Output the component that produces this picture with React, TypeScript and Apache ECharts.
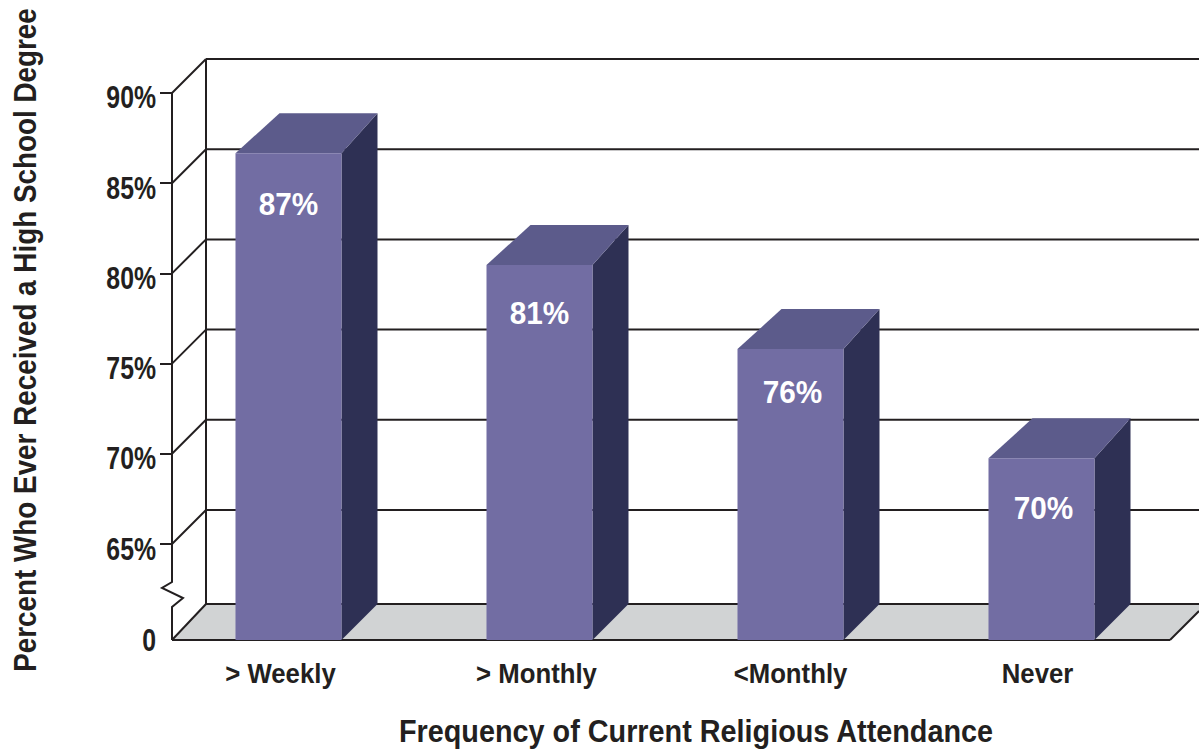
import React, { useEffect, useRef } from "react";
import * as echarts from "echarts";

const categories = ["> Weekly", "> Monthly", "<Monthly", "Never"];
const barLabels = ["87%", "81%", "76%", "70%"];
// Heights as drawn in the picture (on the visible axis scale)
const barHeights = [86.66, 80.47, 75.81, 69.75];
const tickValues = [65, 70, 75, 80, 85, 90];
const xTitle = "Frequency of Current Religious Attendance";
const yTitle = "Percent Who Ever Received a High School Degree";
const BASE = 59.68;

const INK = "#231f20";
const FRONT = "#726da3";
const TOP = "#5c5b8b";
const SIDE = "#2e3054";
const FLOOR = "#d1d3d4";
const FONT = "'Liberation Sans', sans-serif";
const labelDrop = [51, 48, 43, 50];
const labelShift = [0, 0, 2, 2];
const categoryShift = [-8, -3, 0, -4];

const lineStyle = { stroke: INK, lineWidth: 2, fill: "none" };

const label = (text: string, x: number, y: number, size: number, scaleX: number, align = "center", fill = INK, rotation = 0) => ({
  type: "text",
  x,
  y,
  scaleX,
  rotation,
  style: { text, fill, font: `bold ${size}px ${FONT}`, align, verticalAlign: "middle" },
});

function App() {
  const ref = useRef<HTMLDivElement>(null);
  useEffect(() => {
    const chart = echarts.init(ref.current!, null, { renderer: "svg" });
    chart.setOption({
      animation: false,
      backgroundColor: "#fff",
      grid: { left: 163, top: 93, width: 1004, height: 547, containLabel: false, outerBoundsMode: "none" },
      xAxis: {
        type: "category",
        data: categories,
        axisLine: { show: false },
        axisTick: { show: false },
        axisLabel: { show: false },
      },
      yAxis: {
        type: "value",
        min: BASE,
        max: 90,
        offset: -9,
        splitLine: { show: false },
        axisLine: { show: false },
        axisTick: {
          show: true,
          length: 12,
          customValues: tickValues,
          lineStyle: { color: INK, width: 2 },
        },
        axisLabel: { show: false },
      },
      series: [
        {
          type: "custom",
          coordinateSystem: "cartesian2d",
          clip: false,
          silent: true,
          data: [[0, BASE]],
          encode: { x: 0, y: 1 },
          renderItem: (_p: any, api: any) => {
            const y = (v: number) => api.coord([0, v])[1];
            const yBase = y(BASE);
            const children: any[] = [
              {
                type: "polygon",
                shape: { points: [[172, yBase], [206, yBase - 36], [1199, yBase - 36], [1199, yBase - 29], [1170, yBase]] },
                style: { fill: FLOOR },
              },
              { type: "line", shape: { x1: 172, y1: yBase, x2: 1170, y2: yBase }, style: lineStyle },
              { type: "line", shape: { x1: 172, y1: yBase, x2: 206, y2: yBase - 36 }, style: lineStyle },
              { type: "line", shape: { x1: 1170, y1: yBase, x2: 1199, y2: yBase - 29 }, style: lineStyle },
              { type: "line", shape: { x1: 206, y1: yBase - 36, x2: 1199, y2: yBase - 36 }, style: lineStyle },
              { type: "line", shape: { x1: 206, y1: y(90) - 34, x2: 206, y2: yBase - 36 }, style: lineStyle },
              {
                type: "polyline",
                shape: {
                  points: [[172, y(90)], [172, 582], [162, 588], [183, 598], [172, 607], [172, yBase]],
                },
                style: lineStyle,
              },
            ];
            tickValues.forEach((v) => {
              const yy = y(v);
              children.push({ type: "line", shape: { x1: 172, y1: yy, x2: 206, y2: yy - 34 }, style: lineStyle });
              children.push({ type: "line", shape: { x1: 206, y1: yy - 34, x2: 1199, y2: yy - 34 }, style: lineStyle });
              children.push(label(v + "%", 156, yy + 5, 31, 0.8, "right"));
            });
            children.push(label("0", 156, yBase + 1, 31, 0.8, "right"));
            categories.forEach((c, i) => {
              children.push(label(c, api.coord([i, BASE])[0] + categoryShift[i], 674, 28, 0.92));
            });
            children.push(label(xTitle, 696, 730, 32, 0.9));
            children.push(label(yTitle, 25, 340, 32, 0.87, "center", INK, Math.PI / 2));
            return { type: "group", children };
          },
        },
        {
          type: "custom",
          coordinateSystem: "cartesian2d",
          clip: false,
          data: categories.map((c, i) => [c, barHeights[i], barLabels[i]]),
          encode: { x: 0, y: 1 },
          renderItem: (_p: any, api: any) => {
            const idx = _p.dataIndex;
            const cx = api.coord([idx, 0])[0];
            const yTop = api.coord([idx, api.value(1)])[1];
            const yBase = api.coord([idx, BASE])[1];
            const half = 53;
            const l = cx - half;
            const r = cx + half;
            return {
              type: "group",
              children: [
                {
                  type: "polygon",
                  shape: { points: [[r, yTop], [r + 36, yTop - 40], [r + 36, yBase - 36], [r, yBase]] },
                  style: { fill: SIDE },
                },
                {
                  type: "polygon",
                  shape: { points: [[l, yTop], [l + 44, yTop - 40], [r + 36, yTop - 40], [r, yTop]] },
                  style: { fill: TOP },
                },
                { type: "rect", shape: { x: l, y: yTop, width: r - l, height: yBase - yTop }, style: { fill: FRONT } },
                label(barLabels[idx], cx + labelShift[idx], yTop + labelDrop[idx], 32, 0.93, "center", "#fff"),
              ],
            };
          },
        },
      ],
    });
    return () => chart.dispose();
  }, []);
  return <div ref={ref} style={{ position: "absolute", left: 0, top: 0, width: 1199, height: 749 }} />;
}

export default App;
